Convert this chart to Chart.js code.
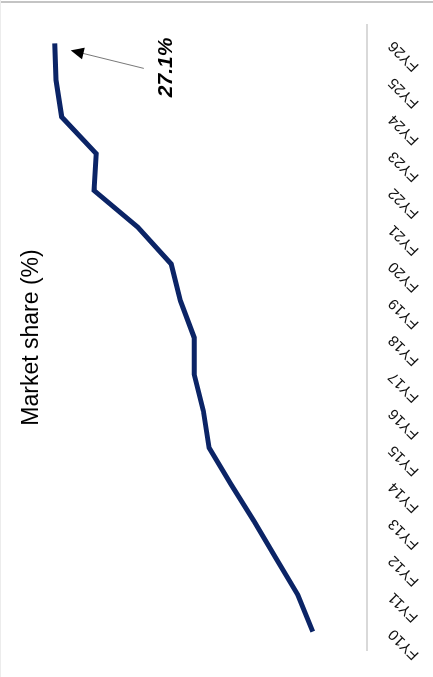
<!DOCTYPE html>
<html>
<head>
<meta charset="utf-8">
<script src="https://cdn.jsdelivr.net/npm/chart.js@4/dist/chart.umd.min.js"></script>
<style>
  html, body { margin: 0; padding: 0; background: #fff; }
  body { width: 433px; height: 677px; overflow: hidden; position: relative; }
  #topline { position: absolute; left: 0; top: 1px; width: 433px; height: 2px; background: #c4c4c4; }
  #leftline { position: absolute; left: 0; top: 0; width: 1px; height: 677px; background: #ececec; }
  #wrap {
    position: absolute; left: 0; top: 0; width: 677px; height: 433px;
    transform-origin: 0 0;
    transform: translate(0, 677px) rotate(-90deg);
  }
</style>
</head>
<body>
<div id="topline"></div>
<div id="leftline"></div>
<div id="wrap"><canvas id="chart" width="677" height="433"></canvas></div>
<script>
// fiscal years
var years = ['FY10','FY11','FY12','FY13','FY14','FY15','FY16','FY17','FY18',
             'FY19','FY20','FY21','FY22','FY23','FY24','FY25','FY26'];
// market share, %
var share = [4.7, 6.0, 7.9, 9.8, 11.8, 13.7, 14.2, 15.0, 15.0,
             16.2, 17.0, 19.9, 23.7, 23.5, 26.5, 27.0, 27.1];
var calloutText = '27.1%';
var calloutIndex = 16;

// arrow + label for the last value
var callout = {
  id: 'callout',
  afterDatasetsDraw: function(chart){
    var ctx = chart.ctx;
    var x = chart.scales.x.getPixelForValue(calloutIndex);
    var y = chart.scales.y.getPixelForValue(share[calloutIndex]);
    var tipX = x - 7, tipY = y + 16;
    var tailX = x - 25, tailY = y + 89;
    var ang = Math.atan2(tipY - tailY, tipX - tailX);
    ctx.save();
    ctx.strokeStyle = '#555';
    ctx.lineWidth = 0.8;
    ctx.beginPath();
    ctx.moveTo(tailX, tailY);
    ctx.lineTo(tipX - Math.cos(ang) * 10, tipY - Math.sin(ang) * 10);
    ctx.stroke();
    ctx.fillStyle = '#000';
    ctx.beginPath();
    ctx.moveTo(tipX, tipY);
    ctx.lineTo(tipX - Math.cos(ang) * 13 + Math.sin(ang) * 6, tipY - Math.sin(ang) * 13 - Math.cos(ang) * 6);
    ctx.lineTo(tipX - Math.cos(ang) * 13 - Math.sin(ang) * 6, tipY - Math.sin(ang) * 13 + Math.cos(ang) * 6);
    ctx.closePath();
    ctx.fill();
    ctx.font = 'italic bold 21px "Liberation Sans", Arial, sans-serif';
    ctx.textAlign = 'center';
    ctx.textBaseline = 'middle';
    ctx.fillText(calloutText, tailX + 1, tailY + 22);
    ctx.restore();
  }
};

var ctx = document.getElementById('chart').getContext('2d');
var myChart = new Chart(ctx, {
  type: 'line',
  data: {
    labels: years,
    datasets: [{
      label: 'Market share',
      data: share,
      borderColor: '#0b2466',
      borderWidth: 5,
      pointRadius: 0,
      tension: 0,
      fill: false
    }]
  },
  options: {
    responsive: false,
    animation: false,
    devicePixelRatio: 1,
    layout: { padding: { left: 27, right: 25, top: 0, bottom: 0 } },
    plugins: {
      legend: { display: false },
      tooltip: { enabled: false },
      title: {
        display: true,
        text: 'Market share (%)',
        color: '#000',
        font: { family: '"Liberation Sans", Arial, sans-serif', size: 23, weight: 'normal' },
        padding: { top: 18, bottom: 0 }
      }
    },
    scales: {
      x: {
        offset: true,
        border: { display: true, color: '#d9d9d9', width: 2 },
        grid: { display: false },
        ticks: {
          color: '#111',
          minRotation: 45,
          maxRotation: 45,
          autoSkip: false,
          padding: 10,
          font: { family: '"Liberation Sans", Arial, sans-serif', size: 15 }
        }
      },
      y: {
        display: false,
        min: 0,
        max: 27.9
      }
    }
  },
  plugins: [callout]
});
</script>
</body>
</html>
